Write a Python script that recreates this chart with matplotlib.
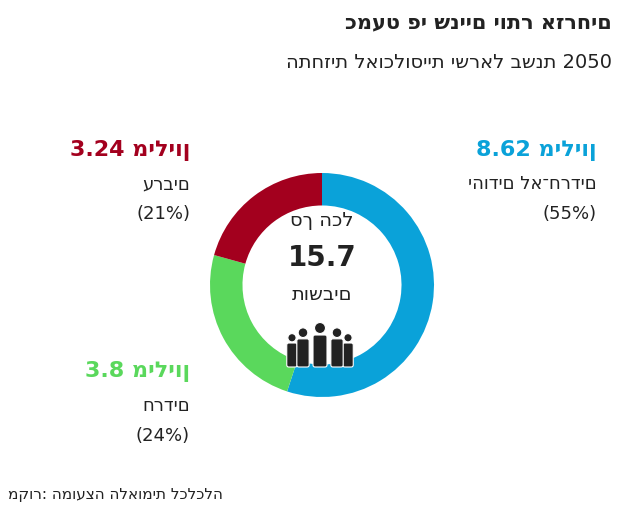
import matplotlib
matplotlib.use("Agg")
import matplotlib.pyplot as plt
from matplotlib.patches import Circle, FancyBboxPatch

plt.rcParams['font.family'] = ['DejaVu Sans']

groups = ["יהודים לא־חרדים", "חרדים", "ערבים"]
values = [8.62, 3.8, 3.24]
shares = ["(55%)", "(24%)", "(21%)"]
colors = ["#0aa2d9", "#5ad85c", "#a3001e"]
total = 15.7

fig = plt.figure(figsize=(6.4, 5.14), dpi=100, facecolor='white')

ax = fig.add_axes([182/640, 1-425/514, 280/640, 280/514])
ax.pie(values, colors=colors, startangle=90, counterclock=False,
       wedgeprops=dict(width=0.29, edgecolor='none', linewidth=0))
ax.set_aspect('equal')

# title / subtitle / source
fig.text(612/640, 1-22/514, "כמעט פי שניים יותר אזרחים", ha='right', va='center',
         fontsize=15, fontweight='bold', color='#222222')
fig.text(612/640, 1-62/514, "התחזית לאוכלוסיית ישראל בשנת 2050", ha='right',
         va='center', fontsize=14, color='#222222')
fig.text(8/640, 1-494/514, "מקור: המועצה הלאומית לכלכלה", ha='left', va='center',
         fontsize=11, color='#222222')

# segment labels
pos = [(597, 150), (190, 372), (190, 150)]
for (x, y), g, v, s, c in zip(pos, groups, values, shares, colors):
    fig.text(x/640, 1-y/514, f"{v:g} מיליון", ha='right', va='center',
             fontsize=16, fontweight='bold', color=c)
    fig.text(x/640, 1-(y+34)/514, g, ha='right', va='center', fontsize=13, color='#222222')
    fig.text(x/640, 1-(y+64)/514, s, ha='right', va='center', fontsize=13, color='#222222')

# center text
fig.text(322/640, 1-220/514, "סך הכל", ha='center', va='center', fontsize=14, color='#222222')
fig.text(322/640, 1-258/514, f"{total}", ha='center', va='center', fontsize=20,
         fontweight='bold', color='#222222')
fig.text(322/640, 1-295/514, "תושבים", ha='center', va='center', fontsize=14, color='#222222')

# people icon
ic = fig.add_axes([285/640, 1-368/514, 70/640, 50/514])
ic.set_xlim(0, 70); ic.set_ylim(0, 50); ic.axis('off')
people = [(7, 0.75), (18, 0.88), (35, 1.0), (52, 0.88), (63, 0.75)]
for px, sc in sorted(people, key=lambda p: p[1]):
    h = 44 * sc
    ic.add_patch(FancyBboxPatch((px - 7*sc, 1), 14*sc, h - 12*sc,
                                boxstyle="round,pad=0,rounding_size=2", color='#222222',
                                ec='white', lw=0.8))
    ic.add_patch(Circle((px, 1 + h - 5*sc), 5.5*sc, color='#222222', ec='white', lw=0.8))

fig.savefig("out.png", dpi=100, facecolor='white')
